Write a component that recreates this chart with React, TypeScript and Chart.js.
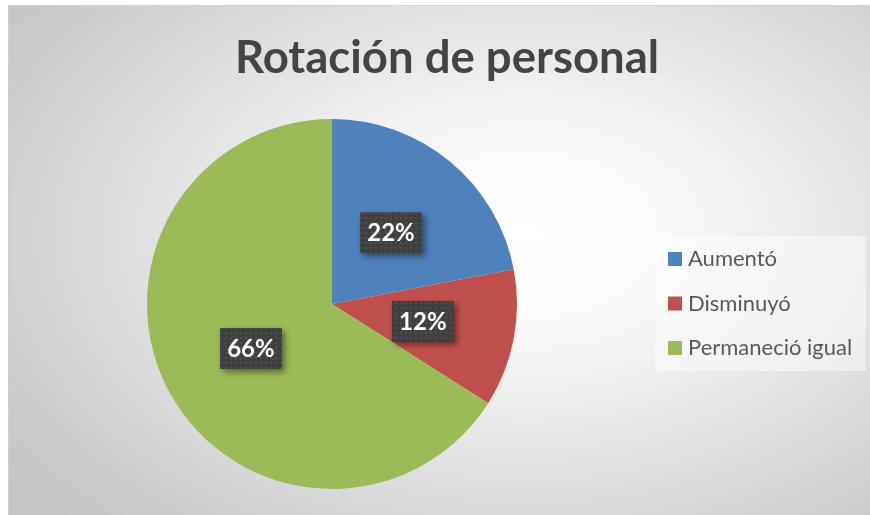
import React, { useEffect, useRef } from "react";
import { Chart, registerables } from "chart.js";

Chart.register(...registerables);

const titleText = "Rotación de personal";
const categories = ["Aumentó", "Disminuyó", "Permaneció igual"];
const values = [22, 12, 66];
const colors = ["#4F81BD", "#C0504D", "#9BBB59"];

const W = 862;
const H = 510;

function makePattern(ctx: CanvasRenderingContext2D) {
  const c = document.createElement("canvas");
  c.width = 5;
  c.height = 5;
  const p = c.getContext("2d")!;
  p.fillStyle = "#404040";
  p.fillRect(0, 0, 5, 5);
  p.fillStyle = "#4f4f4f";
  p.fillRect(1, 1, 2, 2);
  return ctx.createPattern(c, "repeat")!;
}

const overlayPlugin = {
  id: "overlay",
  afterDraw(chart: any) {
    const ctx: CanvasRenderingContext2D = chart.ctx;
    // Title
    ctx.save();
    ctx.fillStyle = "#444444";
    ctx.font = "bold 45.5px Lato, 'Open Sans', sans-serif";
    ctx.textAlign = "center";
    ctx.textBaseline = "alphabetic";
    ctx.fillText(titleText, 438, 67);
    ctx.restore();

    // Data labels
    const meta = chart.getDatasetMeta(0);
    const total = values.reduce((a, b) => a + b, 0);
    const pattern = makePattern(ctx);
    meta.data.forEach((arc: any, i: number) => {
      const pt = arc.getCenterPoint();
      const txt = Math.round((values[i] / total) * 100) + "%";
      ctx.save();
      ctx.font = "bold 24px Lato, 'Open Sans', sans-serif";
      const bw = 62;
      const bh = 41;
      const x = pt.x - bw / 2;
      const y = pt.y - bh / 2;
      ctx.shadowColor = "rgba(0,0,0,0.45)";
      ctx.shadowBlur = 6;
      ctx.shadowOffsetX = 3;
      ctx.shadowOffsetY = 3;
      ctx.fillStyle = pattern;
      ctx.fillRect(x, y, bw, bh);
      ctx.shadowColor = "transparent";
      ctx.fillStyle = "#ffffff";
      ctx.textAlign = "center";
      ctx.textBaseline = "middle";
      ctx.fillText(txt, pt.x, pt.y + 1);
      ctx.restore();
    });

    // Legend
    ctx.save();
    ctx.fillStyle = "rgba(255,255,255,0.45)";
    ctx.fillRect(646, 230, 211, 135);
    ctx.font = "22px Lato, 'Open Sans', sans-serif";
    ctx.textBaseline = "middle";
    ctx.textAlign = "left";
    categories.forEach((c, i) => {
      const cy = 253 + i * 44.5;
      ctx.fillStyle = colors[i];
      ctx.fillRect(659, cy - 7, 14, 14);
      ctx.fillStyle = "#595959";
      ctx.fillText(c, 679, cy);
    });
    ctx.restore();
  },
};

export default function App() {
  const ref = useRef<HTMLCanvasElement | null>(null);
  useEffect(() => {
    if (!ref.current) return;
    const chart = new Chart(ref.current, {
      type: "pie",
      data: {
        labels: categories,
        datasets: [
          {
            data: values,
            backgroundColor: colors,
            borderWidth: 0,
          },
        ],
      },
      options: {
        responsive: false,
        animation: false,
        layout: { padding: { left: 138, top: 113, right: 354, bottom: 27 } },
        plugins: {
          legend: { display: false },
          tooltip: { enabled: false },
          title: { display: false },
        },
      },
      plugins: [overlayPlugin],
    });
    return () => chart.destroy();
  }, []);
  return (
    <div
      style={{
        position: "absolute",
        left: 8,
        top: 5,
        width: W,
        height: H,
        boxSizing: "border-box",
        borderTop: "1px solid #d0d0d0",
        borderLeft: "1px solid #d0d0d0",
        background:
          "radial-gradient(ellipse 75% 80% at 60% 45%, #ffffff 0%, #fbfbfb 20%, #c4c4c4 100%)",
      }}
    >
      <canvas ref={ref} width={W} height={H} style={{ display: "block" }} />
    </div>
  );
}
